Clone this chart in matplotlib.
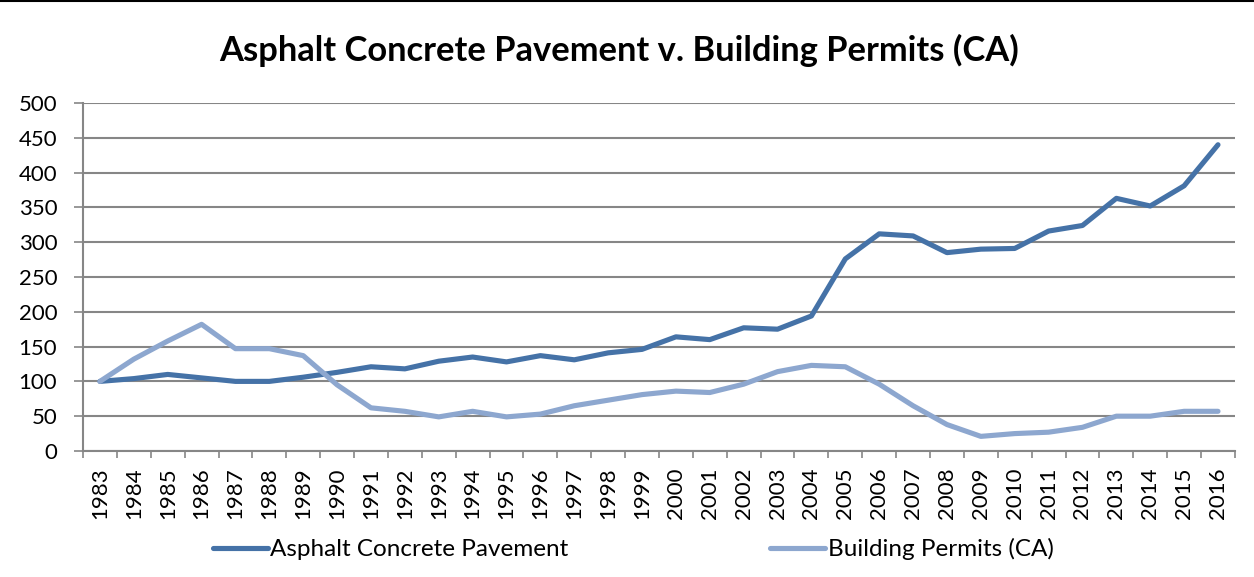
import matplotlib
matplotlib.use('Agg')
import matplotlib.pyplot as plt
import numpy as np

years = [str(y) for y in range(1983, 2017)]
asphalt = [100, 104, 110, 105, 100, 100, 106, 113, 121, 118, 129, 135, 128, 137, 131, 141,
           146, 164, 160, 177, 175, 194, 276, 312, 309, 285, 290, 291, 316, 324, 363, 352, 381, 440]
permits = [100, 132, 158, 182, 147, 147, 137, 95, 62, 57, 49, 57, 49, 53, 65, 73,
           81, 86, 84, 96, 114, 123, 121, 96, 65, 38, 21, 25, 27, 34, 50, 50, 57, 57]

plt.rcParams['font.family'] = ['Lato', 'DejaVu Sans']

fig = plt.figure(figsize=(12.54, 5.77), dpi=100)
ax = fig.add_axes([0.0662, 0.2184, 0.9186, 0.6031])

x = np.arange(len(years))
ax.plot(x, asphalt, color='#4572A7', lw=3.7, solid_capstyle='round', label='Asphalt Concrete Pavement')
ax.plot(x, permits, color='#8DA7CF', lw=3.7, solid_capstyle='round', label='Building Permits (CA)')

ax.set_xlim(-0.5, len(years) - 0.5)
ax.set_ylim(0, 500)
ax.set_yticks(range(0, 501, 50))
ax.set_xticks(x)
ax.set_xticklabels(years, rotation=90)
ax.set_xticks(np.arange(-0.5, len(years), 1), minor=True)
ax.tick_params(axis='x', which='major', length=0, pad=12, labelsize=16)
ax.tick_params(axis='x', which='minor', length=5, width=1.2, color='#868686')
ax.tick_params(axis='y', length=6.5, width=1.2, color='#868686', labelsize=16, pad=12)
ax.grid(axis='y', color='#868686', lw=1.5)
ax.set_axisbelow(True)
for s in ['top', 'right']:
    ax.spines[s].set_visible(False)
for s in ['left', 'bottom']:
    ax.spines[s].set_color('#868686')
    ax.spines[s].set_linewidth(1.5)

fig.text(0.494, 0.913, 'Asphalt Concrete Pavement v. Building Permits (CA)',
         ha='center', va='center', fontsize=24.8, fontweight='bold')

fig.legend(loc='center', bbox_to_anchor=(0.505, 0.048), ncol=2, frameon=False,
           fontsize=17.5, handlelength=2.26, handletextpad=0.1, columnspacing=8.3)

fig.add_artist(plt.Line2D([0, 1], [0.998, 0.998], color='black', lw=1.5))

fig.savefig('out.png', dpi=100)
